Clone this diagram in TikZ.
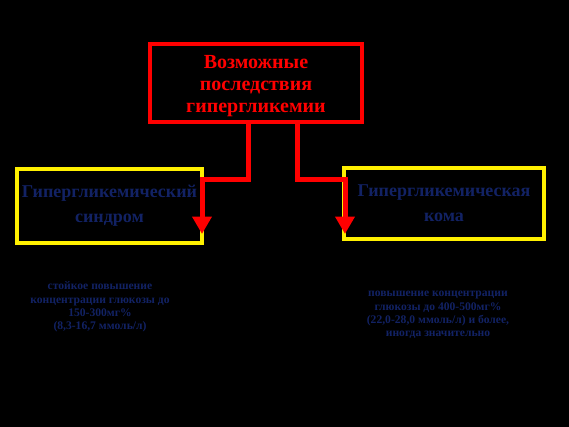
\documentclass[tikz,border=0pt]{standalone}
\usepackage{fontspec}
\setmainfont{Liberation Serif}
\usetikzlibrary{arrows.meta}
\definecolor{navy}{RGB}{18,34,100}
\definecolor{rred}{RGB}{255,0,0}
\definecolor{yel}{RGB}{255,240,0}
\begin{document}
\begin{tikzpicture}[x=0.75pt,y=-0.75pt,
  topbox/.style={draw=rred,line width=3pt,minimum width=159pt,minimum height=58.5pt,inner sep=0pt,align=center,text=rred,font=\fontsize{15}{16.5}\selectfont\bfseries},
  ybox/.style={draw=yel,line width=3pt,inner sep=0pt,align=center,text=navy,font=\fontsize{13.5}{19}\selectfont\bfseries},
  note/.style={inner sep=0pt,align=center,text=navy,font=\fontsize{8.7}{10}\selectfont\bfseries},
  conn/.style={draw=rred,line width=3.75pt,-{Triangle[width=14pt,length=13pt]}}]
\fill[black] (0,0) rectangle (569,427);
\useasboundingbox (0,0) rectangle (569,427);
\node[topbox] (top) at (256,83) {};
\node[inner sep=0pt,align=center,text=rred,font=\fontsize{15}{16.5}\selectfont\bfseries] (toptext) at (256,86) {Возможные\\последствия\\гипергликемии};
\node[ybox,minimum width=139pt,minimum height=55.5pt] (lbox) at (109.5,206) {Гипергликемический\\синдром};
\node[ybox,minimum width=150pt,minimum height=53pt] (rbox) at (444,203.5) {Гипергликемическая\\кома};
\node[note] (lnote) at (100,307) {стойкое повышение\\концентрации глюкозы до\\150-300мг\%\\(8,3-16,7 ммоль/л)};
\node[note] (rnote) at (438,315) {повышение концентрации\\глюкозы до 400-500мг\%\\(22,0-28,0 ммоль/л) и более,\\иногда значительно};
\coordinate (la) at (248,180);
\coordinate (lb) at (202,180);
\coordinate (ltip) at (202,234);
\coordinate (ra) at (297,180);
\coordinate (rb) at (345,180);
\coordinate (rtip) at (345,234);
\draw[conn] (top.south -| la) -- (la) -- (lb) -- (ltip);
\draw[conn] (top.south -| ra) -- (ra) -- (rb) -- (rtip);
\end{tikzpicture}
\end{document}
